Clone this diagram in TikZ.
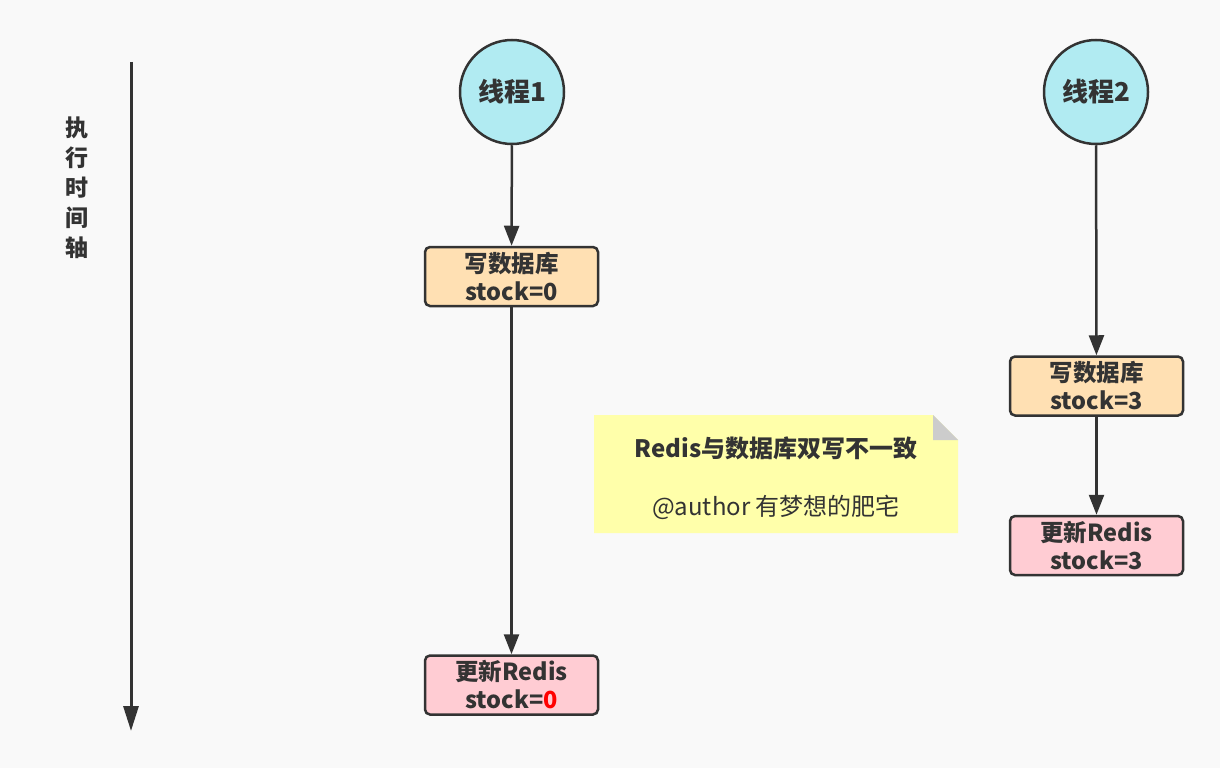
\documentclass[tikz,border=0pt]{standalone}
\usepackage{fontspec}
\setmainfont{Noto Sans CJK SC}
\usetikzlibrary{arrows.meta}
\definecolor{bg}{HTML}{F9F9F9}
\definecolor{ink}{HTML}{333333}
\definecolor{cyanfill}{HTML}{B1EBF2}
\definecolor{orangefill}{HTML}{FFE0B3}
\definecolor{pinkfill}{HTML}{FFCCD3}
\definecolor{notefill}{HTML}{FFFFAA}
\definecolor{foldgray}{HTML}{CCCCCC}
\definecolor{redtxt}{HTML}{FF0000}
\begin{document}
\begin{tikzpicture}[x=1pt,y=-1pt,
  thread/.style={circle,draw=ink,line width=2.5pt,fill=cyanfill,minimum size=104pt,inner sep=0pt,font=\fontsize{26}{30}\selectfont\bfseries,text=ink},
  dbbox/.style={rectangle,rounded corners=5pt,draw=ink,line width=2.5pt,fill=orangefill,minimum width=173pt,minimum height=59pt,inner sep=0pt,align=center,font=\fontsize{23.5}{28}\selectfont\bfseries,text=ink},
  redisbox/.style={dbbox,fill=pinkfill},
  flow/.style={draw=ink,line width=2.5pt,-{Triangle[length=20pt,width=15pt]}},
  ]
\fill[bg] (0,0) rectangle (1220,768);
\useasboundingbox (0,0) rectangle (1220,768);
% time axis
\coordinate (axtop) at (131,62);
\coordinate (axbot) at (131,731);
\draw[draw=ink,line width=3pt,-{Triangle[length=25pt,width=15pt]}] (axtop) -- (axbot);
\node[align=center,text=ink,font=\fontsize{23}{30}\selectfont\bfseries] (axlabel) at (77,188) {执\\行\\时\\间\\轴};
% threads
\node[thread] (t1) at (512,92) {线程1};
\node[thread] (t2) at (1096,92) {线程2};
\node[dbbox] (w1) at (511.5,276.5) {写数据库\\stock=0};
\node[redisbox] (r1) at (511.5,685) {更新Redis\\stock={\color{redtxt}0}};
\node[dbbox] (w2) at (1096.5,386) {写数据库\\stock=3};
\node[redisbox] (r2) at (1096.5,545.5) {更新Redis\\stock=3};
\draw[flow] (t1) -- (w1);
\draw[flow] (w1) -- (r1);
\draw[flow] (t2) -- (w2);
\draw[flow] (w2) -- (r2);
% note
\fill[notefill] (594,415) -- (933,415) -- (958,440) -- (958,533) -- (594,533) -- cycle;
\fill[foldgray] (933,415) -- (958,440) -- (933,440) -- cycle;
\node[text=ink,font=\fontsize{24}{28}\selectfont\bfseries] (notetitle) at (776,448) {Redis与数据库双写不一致};
\node[text=ink,font=\fontsize{24}{28}\selectfont] (noteauthor) at (776,507) {@author 有梦想的肥宅};
\end{tikzpicture}
\end{document}
